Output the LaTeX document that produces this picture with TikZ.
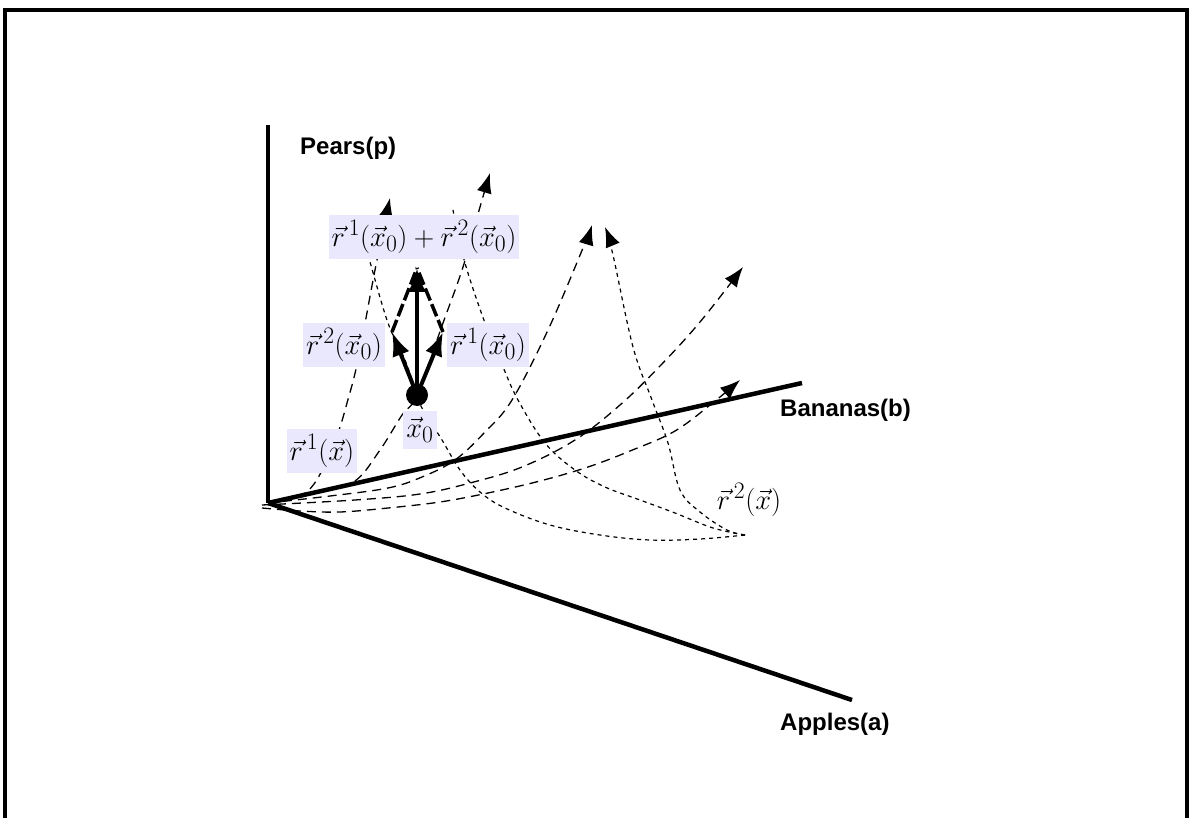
\documentclass[tikz,border=0pt]{standalone}
\usepackage{fontspec}
\newfontfamily\labelfont{Liberation Sans}
\usetikzlibrary{arrows.meta}
\definecolor{lbl}{RGB}{234,232,252}
\newcommand\mlab[1]{\scalebox{1.14}{$#1$}}
\begin{document}
\begin{tikzpicture}[x=1pt,y=-1pt,
  frame/.style={line width=4pt},
  axis/.style={line width=4.5pt},
  axlabel/.style={font=\labelfont\bfseries\fontsize{24}{28}\selectfont, anchor=west, inner sep=0pt},
  mlabel/.style={fill=lbl, inner xsep=3pt, inner ysep=6pt, font=\fontsize{24.88}{30}\selectfont},
  rone/.style={line width=1.3pt, dash pattern=on 9pt off 6pt},
  rtwo/.style={line width=1.2pt, dash pattern=on 4pt off 4pt},
  tipA/.style={-{Latex[length=20pt,width=15pt]}},
  vec/.style={line width=4pt, -{Latex[length=24pt,width=18pt]}},
  side/.style={line width=3.5pt, dash pattern=on 13pt off 4pt}
]
\useasboundingbox (0,0) rectangle (1191,818);
\draw[frame] (5,818) -- (5,10) -- (1187,10) -- (1187,818);

\coordinate (O) at (268,503);
\coordinate (x0) at (417,395);
\coordinate (sumtip) at (417,268);
\coordinate (r2tip) at (392,332);
\coordinate (r1tip) at (443,332);

% r1 field curves (long dashes)
\draw[rone,tipA] plot[smooth,tension=0.6] coordinates {(268,503) (305,493) (325,465) (338,433) (347,403) (358,360) (375,270) (390,198)};
\draw[rone,tipA] plot[smooth,tension=0.6] coordinates {(268,503) (320,492) (355,481) (380,450) (402,415) (417,395) (443,323) (463,267) (480,207) (490,173)};
\draw[rone,tipA] plot[smooth,tension=0.6] coordinates {(268,503) (330,496) (388,488) (422,477) (455,460) (485,432) (512,400) (548,330) (583,248) (592,225)};
\draw[rone,tipA] plot[smooth,tension=0.6] coordinates {(262,505) (355,500) (420,494) (470,483) (522,467) (575,440) (620,405) (660,366) (700,322) (743,267)};
\draw[rone,tipA] plot[smooth,tension=0.6] coordinates {(262,508) (300,511) (340,512) (388,508) (440,502) (488,493) (540,481) (588,467) (630,451) (675,431) (715,401) (740,380)};

% r2 field curves (short dashes)
\draw[rtwo,tipA] plot[smooth,tension=0.6] coordinates {(745,535) (727,530) (700,512) (680,490) (668,443) (652,400) (633,347) (613,255) (605,227)};
\draw[rtwo] plot[smooth,tension=0.6] coordinates {(745,535) (713,528) (675,513) (640,500) (605,487) (575,470) (545,443) (518,400) (503,367) (485,323) (465,263) (453,210)};
\draw[rtwo] plot[smooth,tension=0.6] coordinates {(745,535) (700,539) (650,540) (600,535) (550,525) (505,508) (480,492) (460,470) (442,440) (422,408) (417,395) (405,360) (388,323) (370,262) (362,235)};

% axes
\draw[axis] (O) -- (268,125);
\draw[axis] (O) -- (802,383);
\draw[axis] (O) -- (852,700);
\node[axlabel] (pears) at (300,148) {Pears(p)};
\node[axlabel] (bananas) at (780,410) {Bananas(b)};
\node[axlabel] (apples) at (780,724) {Apples(a)};

% vectors at x0
\draw[side] (r2tip) -- (sumtip);
\draw[side] (r1tip) -- (sumtip);
\draw[vec] (x0) -- (sumtip);
\draw[vec] (x0) -- (r2tip);
\draw[vec] (x0) -- (r1tip);
\fill (x0) circle (11pt);

% labels
\node[mlabel] (lsum) at (424,237) {\mlab{\vec r^{\,1}(\vec x_0)+\vec r^{\,2}(\vec x_0)}};
\node[mlabel] (lr2) at (344,345) {\mlab{\vec r^{\,2}(\vec x_0)}};
\node[mlabel] (lr1) at (488,345) {\mlab{\vec r^{\,1}(\vec x_0)}};
\node[mlabel] (lx0) at (420,430) {\mlab{\vec x_0}};
\node[mlabel] (lr1x) at (322,451) {\mlab{\vec r^{\,1}\bigl(\vec x\bigr)}};
\node[font=\fontsize{24.88}{30}\selectfont, inner sep=3pt] (lr2x) at (749,500) {\mlab{\vec r^{\,2}\bigl(\vec x\bigr)}};
\end{tikzpicture}
\end{document}
